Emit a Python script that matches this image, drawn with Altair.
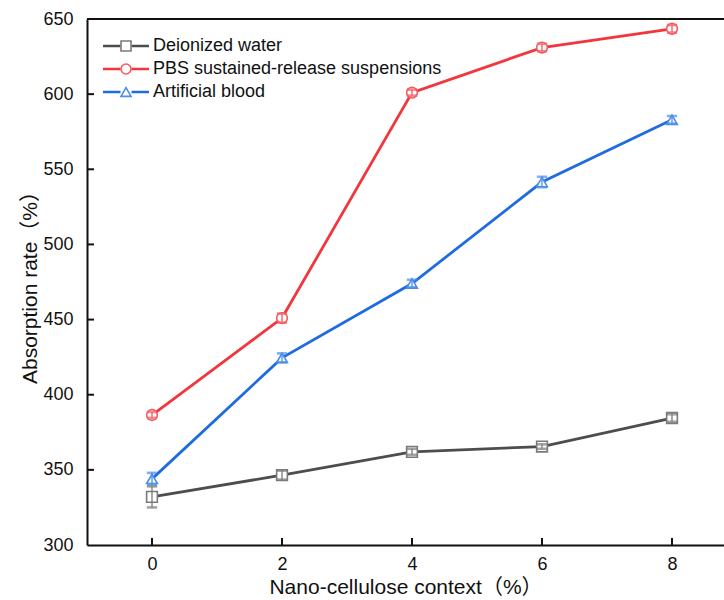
import altair as alt
import pandas as pd

# Nano-cellulose content (%)
content = [0, 2, 4, 6, 8]

series_names = [
    "Deionized water",
    "PBS sustained-release suspensions",
    "Artificial blood",
]
# short keys used by the marker layer
marker_keys = ["DW", "PBS", "AB"]

# Absorption rate (%) and its error for each medium
deionized = [332, 346.5, 362, 365.5, 384.5]
deionized_err = [7, 3, 2, 1.5, 2.5]
pbs = [386.5, 451, 601, 631, 643.5]
pbs_err = [2, 3, 2, 2.5, 2.5]
blood = [344, 424.5, 474, 541.5, 583]
blood_err = [4, 3, 2.5, 3.5, 2.5]

line_colors = ["#4d4d4d", "#f3353d", "#1f6ce0"]
marker_colors = ["#7a7a7a", "#f55a5f", "#4b8de8"]
shapes = ["square", "circle", "triangle-up"]

y_ticks = [300, 350, 400, 450, 500, 550, 600, 650]
x_ticks = [0, 2, 4, 6, 8]

rows = []
for name, key, vals, errs in zip(series_names, marker_keys, [deionized, pbs, blood],
                                 [deionized_err, pbs_err, blood_err]):
    for x, v, e in zip(content, vals, errs):
        rows.append({"content": x, "rate": v, "lo": v - e, "hi": v + e,
                     "series": name, "marker": key})
df = pd.DataFrame(rows)

W, H = 637, 526
FONT = "Liberation Sans, Arial, 'Noto Sans CJK SC'"

x_scale = alt.Scale(domain=[-1, 8.8], nice=False, zero=False)
y_scale = alt.Scale(domain=[300, 650], nice=False, zero=False)
marker_stroke_scale = alt.Scale(domain=marker_keys, range=marker_colors)

LEG_X, LEG_Y = 30, 18
leg_common = dict(
    title=None, orient="none", legendX=LEG_X, legendY=LEG_Y,
    labelFont=FONT, labelFontSize=18, labelColor="#111111", labelLimit=500,
    symbolSize=100, labelOffset=18, rowPadding=5, padding=0,
)

# line legend: a split stroke, with the marker legend drawn in the gap
line_legend = alt.Legend(symbolType="M-4.6,0H-1.1M1.1,0H4.6", symbolStrokeWidth=2.6,
                         **leg_common)
marker_legend = alt.Legend(symbolStrokeWidth=1.6, labelExpr="''",
                           symbolFillColor="white", **leg_common)

base = alt.Chart(df)

x_enc = alt.X(
    "content:Q", scale=x_scale,
    axis=alt.Axis(values=x_ticks, format="d", ticks=False, grid=False,
                  title="Nano-cellulose context（%）",
                  labelFontSize=18, titleFontSize=21, labelPadding=10, titlePadding=3,
                  domainWidth=2, domainColor="#111111", labelColor="#111111",
                  titleColor="#111111", titleFontWeight="normal", labelFont=FONT, titleFont=FONT),
)
y_enc = alt.Y(
    "rate:Q", scale=y_scale,
    axis=alt.Axis(values=y_ticks, ticks=False, grid=False, title="Absorption rate（%）",
                  labelFontSize=18, titleFontSize=21, labelPadding=14, titlePadding=2,
                  domainWidth=2, domainColor="#111111", labelColor="#111111",
                  titleColor="#111111", titleFontWeight="normal", labelFont=FONT, titleFont=FONT),
)

lines = base.mark_line(strokeWidth=2.8).encode(
    x=x_enc,
    y=y_enc,
    color=alt.Color("series:N", scale=alt.Scale(domain=series_names, range=line_colors),
                    legend=line_legend),
    detail="series:N",
)

points = base.mark_point(filled=False, fill="white", fillOpacity=1, size=115,
                         strokeWidth=1.6, opacity=1).encode(
    x=alt.X("content:Q", scale=x_scale),
    y=alt.Y("rate:Q", scale=y_scale),
    stroke=alt.Stroke("marker:N", scale=marker_stroke_scale, legend=marker_legend),
    shape=alt.Shape("marker:N", scale=alt.Scale(domain=marker_keys, range=shapes),
                    legend=marker_legend),
)

err_rule = base.mark_rule(strokeWidth=1.3).encode(
    x=alt.X("content:Q", scale=x_scale),
    y=alt.Y("lo:Q", scale=y_scale),
    y2="hi:Q",
    stroke=alt.Stroke("marker:N", scale=marker_stroke_scale, legend=None),
)
cap_lo = base.mark_tick(thickness=1.3, size=9, orient="horizontal", filled=False,
                        strokeWidth=1.3).encode(
    x=alt.X("content:Q", scale=x_scale),
    y=alt.Y("lo:Q", scale=y_scale),
    stroke=alt.Stroke("marker:N", scale=marker_stroke_scale, legend=None),
)
cap_hi = base.mark_tick(thickness=1.3, size=9, orient="horizontal", filled=False,
                        strokeWidth=1.3).encode(
    x=alt.X("content:Q", scale=x_scale),
    y=alt.Y("hi:Q", scale=y_scale),
    stroke=alt.Stroke("marker:N", scale=marker_stroke_scale, legend=None),
)

# inward tick marks on both axes and the top frame line
ytick_df = pd.DataFrame({"v": y_ticks[1:-1]})
xtick_df = pd.DataFrame({"c": x_ticks})
yticks = alt.Chart(ytick_df).mark_rule(color="#111111", strokeWidth=2).encode(
    y=alt.Y("v:Q", scale=y_scale), x=alt.value(0), x2=alt.value(7))
xticks = alt.Chart(xtick_df).mark_rule(color="#111111", strokeWidth=2).encode(
    x=alt.X("c:Q", scale=x_scale), y=alt.value(H), y2=alt.value(H - 7))
top = alt.Chart(pd.DataFrame({"v": [650]})).mark_rule(color="#111111", strokeWidth=2).encode(
    y=alt.Y("v:Q", scale=y_scale), x=alt.value(0), x2=alt.value(W + 5))

chart = alt.layer(lines, points, err_rule, cap_lo, cap_hi, yticks, xticks, top).properties(
    width=W, height=H,
    autosize=alt.AutoSizeParams(type="none"),
    padding={"left": 87, "top": 19, "right": 0, "bottom": 55},
    background="white",
).configure_view(stroke=None)

chart.save("out.html", embed_options={"renderer": "svg", "actions": False})
